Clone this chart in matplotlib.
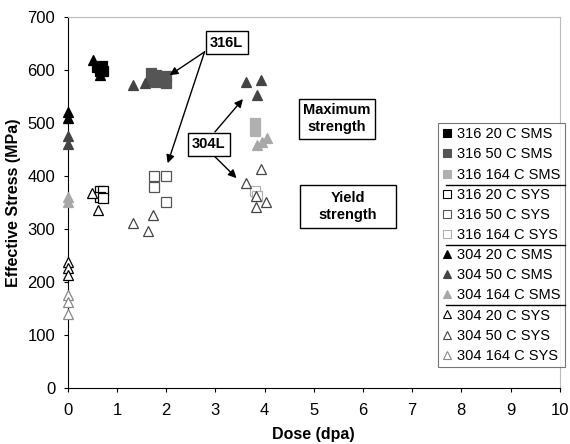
import numpy as np
import matplotlib.pyplot as plt
from matplotlib.lines import Line2D
from matplotlib.patches import Rectangle

plt.rcParams['font.family'] = ['Liberation Sans', 'DejaVu Sans']

# dose (dpa) and effective stress (MPa) for each series
labels = ["316 20 C SMS", "316 50 C SMS", "316 164 C SMS",
          "316 20 C SYS", "316 50 C SYS", "316 164 C SYS",
          "304 20 C SMS", "304 50 C SMS", "304 164 C SMS",
          "304 20 C SYS", "304 50 C SYS", "304 164 C SYS"]

dose_316_20_sms = [0.6, 0.65, 0.7, 0.72]
stress_316_20_sms = [605, 597, 607, 598]
dose_316_50_sms = [1.7, 1.8, 1.7, 1.8, 2.0, 2.0]
stress_316_50_sms = [595, 590, 580, 578, 588, 575]
dose_316_164_sms = [3.8, 3.8]
stress_316_164_sms = [500, 485]

dose_316_20_sys = [0.65, 0.72, 0.65, 0.72]
stress_316_20_sys = [372, 372, 360, 358]
dose_316_50_sys = [1.75, 1.75, 2.0, 2.0]
stress_316_50_sys = [400, 380, 400, 350]
dose_316_164_sys = [3.8, 3.85]
stress_316_164_sys = [372, 362]

dose_304_20_sms = [0, 0, 0.52, 0.65]
stress_304_20_sms = [520, 510, 619, 590]
dose_304_50_sms = [0, 0, 1.33, 1.57, 3.62, 3.92, 3.84]
stress_304_50_sms = [475, 460, 572, 575, 577, 581, 553]
dose_304_164_sms = [0, 0, 3.85, 3.95, 4.05]
stress_304_164_sms = [360, 350, 458, 464, 472]

dose_304_20_sys = [0, 0, 0, 0.5, 0.62]
stress_304_20_sys = [238, 226, 213, 368, 336]
dose_304_50_sys = [1.32, 1.62, 1.73, 3.93, 3.62, 3.83, 3.83, 4.02]
stress_304_50_sys = [311, 297, 327, 413, 387, 362, 342, 351]
dose_304_164_sys = [0, 0, 0]
stress_304_164_sys = [175, 163, 140]

doses = [dose_316_20_sms, dose_316_50_sms, dose_316_164_sms,
         dose_316_20_sys, dose_316_50_sys, dose_316_164_sys,
         dose_304_20_sms, dose_304_50_sms, dose_304_164_sms,
         dose_304_20_sys, dose_304_50_sys, dose_304_164_sys]
stresses = [stress_316_20_sms, stress_316_50_sms, stress_316_164_sms,
            stress_316_20_sys, stress_316_50_sys, stress_316_164_sys,
            stress_304_20_sms, stress_304_50_sms, stress_304_164_sms,
            stress_304_20_sys, stress_304_50_sys, stress_304_164_sys]

styles = [
    dict(marker='s', mfc='black', mec='black'),
    dict(marker='s', mfc='#555555', mec='#555555'),
    dict(marker='s', mfc='#b0b0b0', mec='#b0b0b0'),
    dict(marker='s', mfc='white', mec='black'),
    dict(marker='s', mfc='white', mec='#555555'),
    dict(marker='s', mfc='white', mec='#b0b0b0'),
    dict(marker='^', mfc='black', mec='black'),
    dict(marker='^', mfc='#444444', mec='#444444'),
    dict(marker='^', mfc='#a8a8a8', mec='#a8a8a8'),
    dict(marker='^', mfc='white', mec='black'),
    dict(marker='^', mfc='white', mec='#444444'),
    dict(marker='^', mfc='white', mec='#888888'),
]

fig = plt.figure(figsize=(5.7, 4.44), dpi=100)
ax = fig.add_axes([0.119, 0.126, 0.863, 0.836])

for x, y, st, lab in zip(doses, stresses, styles, labels):
    ax.plot(x, y, linestyle='none', markersize=7.5, mew=0.9,
            label=lab, clip_on=False, zorder=3, **st)

ax.set_xlim(0, 10)
ax.set_ylim(0, 700)
ax.set_xticks(range(0, 11))
ax.set_yticks(range(0, 701, 100))
ax.tick_params(labelsize=12, direction='out', length=3)
ax.tick_params(axis='x', pad=8)
ax.tick_params(axis='y', pad=6)
ax.set_xlabel("Dose (dpa)", fontsize=11.5, fontweight='bold', labelpad=6)
ax.set_ylabel("Effective Stress (MPa)", fontsize=11.5, fontweight='bold', labelpad=5)
ax.spines['top'].set_color('#bbbbbb')
ax.spines['right'].set_color('#bbbbbb')

box = dict(boxstyle='square,pad=0.3', fc='white', ec='black', lw=1)
arrow = dict(arrowstyle='-|>', color='black', lw=1, mutation_scale=12,
             shrinkA=0, shrinkB=0)

# 316L label and arrows
ax.annotate("", xy=(2.07, 590), xytext=(2.78, 634), arrowprops=arrow)
ax.annotate("", xy=(2.03, 424), xytext=(2.78, 634), arrowprops=arrow)
ax.text(3.23, 651, "316L", ha='center', va='center', fontsize=10.5,
        fontweight='bold', bbox=box, zorder=5)

# 304L label and arrows
ax.annotate("", xy=(3.56, 545), xytext=(2.99, 483), arrowprops=arrow)
ax.annotate("", xy=(3.43, 396), xytext=(2.95, 440), arrowprops=arrow)
ax.text(2.87, 460, "304L", ha='center', va='center', fontsize=10.5,
        fontweight='bold', bbox=box, zorder=5)

ax.text(5.47, 508, "Maximum\nstrength", ha='center', va='center', fontsize=10.5,
        fontweight='bold', linespacing=1.3,
        bbox=dict(boxstyle='square,pad=0.3', fc='white', ec='black', lw=1))
ax.add_patch(Rectangle((4.72, 302), 1.95, 81, fc='white', ec='black', lw=1))
ax.text(5.69, 342, "Yield\nstrength", ha='center', va='center', fontsize=10.5,
        fontweight='bold', linespacing=1.3)

# legend with markers of legend size
leg_handles = [Line2D([], [], linestyle='none', markersize=6, mew=0.8, **st)
               for st in styles]
leg = ax.legend(leg_handles, labels, loc='upper left',
                bbox_to_anchor=(438 / 570, 1 - 123 / 444),
                bbox_transform=fig.transFigure,
                fontsize=10.5, frameon=True, fancybox=False, edgecolor='#555555',
                handlelength=0.7, handletextpad=0.3, borderpad=0.3,
                labelspacing=0.42, borderaxespad=0)
leg.get_frame().set_linewidth(0.8)

# separator lines between legend groups
fig.canvas.draw()
texts = leg.get_texts()
fb = leg.get_frame().get_window_extent()
inv = fig.transFigure.inverted()
for i in (2, 5, 8):
    b1 = texts[i].get_window_extent()
    b2 = texts[i + 1].get_window_extent()
    ymid = (b1.y0 + b2.y1) / 2
    (x0, y0) = inv.transform((fb.x0 + 8, ymid))
    (x1, _) = inv.transform((fb.x1, ymid))
    fig.add_artist(Line2D([x0, x1], [y0, y0], color='black', lw=1))

fig.savefig("out.png", dpi=100)
